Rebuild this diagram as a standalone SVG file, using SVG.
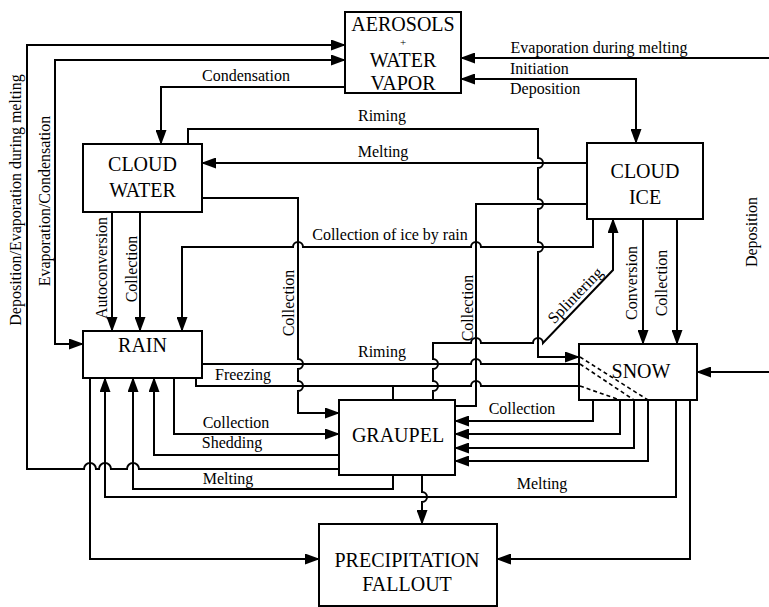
<svg xmlns="http://www.w3.org/2000/svg" width="769" height="607" viewBox="0 0 769 607">
<style>
.box{fill:#fff;stroke:#000;stroke-width:2}
.nt{font-family:"Liberation Serif","Times New Roman",serif;font-size:20px;text-anchor:middle;fill:#000}
.c{fill:none;stroke:#000;stroke-width:2}
.d{fill:none;stroke:#000;stroke-width:1.6;stroke-dasharray:4,3}
.lb{font-family:"Liberation Serif","Times New Roman",serif;font-size:16px;fill:#000}
.m{text-anchor:middle}
</style>
<defs>
<marker id="ah" markerUnits="userSpaceOnUse" markerWidth="15" markerHeight="11" refX="14" refY="5.5" orient="auto-start-reverse" viewBox="0 0 15 11">
<path d="M0,0 L15,5.5 L0,11 Z" fill="#000"/>
</marker>
</defs>
<rect width="769" height="607" fill="#fff"/>

<g id="aerosols">
<rect class="box" x="345" y="12" width="116" height="81"/>
<text class="nt" x="403" y="31">AEROSOLS</text>
<text class="nt" x="403" y="46" style="font-size:11px">+</text>
<text class="nt" x="403" y="67">WATER</text>
<text class="nt" x="403" y="90">VAPOR</text>
</g>
<g id="cloudwater">
<rect class="box" x="83" y="144" width="119" height="68"/>
<text class="nt" x="142.5" y="171">CLOUD</text>
<text class="nt" x="142.5" y="197">WATER</text>
</g>
<g id="cloudice">
<rect class="box" x="587" y="143" width="116" height="76"/>
<text class="nt" x="645" y="178">CLOUD</text>
<text class="nt" x="645" y="204">ICE</text>
</g>
<g id="rain">
<rect class="box" x="83" y="331" width="119" height="47"/>
<text class="nt" x="142.5" y="352">RAIN</text>
</g>
<g id="snow">
<rect class="box" x="579" y="344" width="118" height="56"/>
<text class="nt" x="641" y="378">SNOW</text>
</g>
<g id="graupel">
<rect class="box" x="339" y="400" width="116" height="75"/>
<text class="nt" x="398" y="442">GRAUPEL</text>
</g>
<g id="fallout">
<rect class="box" x="319" y="524" width="178" height="82"/>
<text class="nt" x="407" y="567">PRECIPITATION</text>
<text class="nt" x="407" y="591">FALLOUT</text>
</g>

<g id="connectors">
<path class="c" marker-end="url(#ah)" d="M339,469 L139,469 A6,6 0 0 0 127,469 L111,469 A6,6 0 0 0 99,469 L96,469 A6,6 0 0 0 84,469 L27,469 L27,45 L345,45"/>
<path class="c" marker-start="url(#ah)" marker-end="url(#ah)" d="M345,60 L55,60 L55,344 L83,344"/>
<path class="c" marker-end="url(#ah)" d="M345,87 L161,87 L161,144"/>
<path class="c" marker-end="url(#ah)" d="M769,58 L461,58"/>
<path class="c" marker-start="url(#ah)" marker-end="url(#ah)" d="M461,79 L636,79 L636,143"/>
<path class="c" marker-end="url(#ah)" d="M188,144 L188,129 L538,129 L538,158 A5,5 0 0 1 538,168 L538,199 A5,5 0 0 1 538,209 L538,242 A5,5 0 0 1 538,252 L538,357 L579,357"/>
<path class="c" marker-end="url(#ah)" d="M587,163 L202,163"/>
<path class="c" d="M587,204 L476,204 L476,406 L455,406"/>
<path class="c" marker-end="url(#ah)" d="M593,219 L593,247 L481,247 A5,5 0 0 0 471,247 L303,247 A5,5 0 0 0 293,247 L182,247 L182,331"/>
<path class="c" marker-end="url(#ah)" d="M112,212 L112,331"/>
<path class="c" marker-end="url(#ah)" d="M140,212 L140,331"/>
<path class="c" marker-end="url(#ah)" d="M202,198 L298,198 L298,359 A5,5 0 0 1 298,369 L298,381 A5,5 0 0 1 298,391 L298,413 L339,413"/>
<path class="c" d="M202,364 L471,364 A5,5 0 0 1 481,364 L579,364"/>
<path class="c" d="M196,378 L196,386 L471,386 A5,5 0 0 1 481,386 L579,386"/>
<path class="c" d="M393,386 L393,400"/>
<path class="d" d="M580,357 L648,400 M580,364 L634,400 M580,386 L620,400"/>
<path class="c" marker-end="url(#ah)" d="M648,400 L648,461 L455,461"/>
<path class="c" marker-end="url(#ah)" d="M634,400 L634,448 L455,448"/>
<path class="c" marker-end="url(#ah)" d="M620,400 L620,434 L455,434"/>
<path class="c" marker-end="url(#ah)" d="M593,400 L593,421 L455,421"/>
<path class="c" marker-end="url(#ah)" d="M433,400 L433,391 A5,5 0 0 0 433,381 L433,369 A5,5 0 0 0 433,359 L433,343 L471,343 A5,5 0 0 1 481,343 L533,343 A5,5 0 0 1 543,343 L613,270 L613,219"/>
<path class="c" marker-end="url(#ah)" d="M643,219 L643,344"/>
<path class="c" marker-end="url(#ah)" d="M677,219 L677,344"/>
<path class="c" marker-end="url(#ah)" d="M769,372 L697,372"/>
<path class="c" marker-end="url(#ah)" d="M676,400 L676,497 L105,497 L105,378"/>
<path class="c" marker-end="url(#ah)" d="M690,400 L690,559 L497,559"/>
<path class="c" marker-end="url(#ah)" d="M422,475 L422,492 A5,5 0 0 1 422,502 L422,524"/>
<path class="c" marker-end="url(#ah)" d="M393,475 L393,489 L133,489 L133,378"/>
<path class="c" marker-end="url(#ah)" d="M339,455 L154,455 L154,378"/>
<path class="c" marker-end="url(#ah)" d="M174,378 L174,434 L339,434"/>
<path class="c" marker-end="url(#ah)" d="M90,378 L90,559 L319,559"/>
</g>

<g id="labels">
<text class="lb m" x="246" y="81">Condensation</text>
<text class="lb m" x="599" y="53">Evaporation during melting</text>
<text class="lb" x="510" y="74">Initiation</text>
<text class="lb" x="510" y="94">Deposition</text>
<text class="lb m" x="382" y="121">Riming</text>
<text class="lb m" x="383" y="157">Melting</text>
<text class="lb m" x="390" y="240">Collection of ice by rain</text>
<text class="lb m" x="382" y="357">Riming</text>
<text class="lb m" x="243" y="380">Freezing</text>
<text class="lb m" x="236" y="428">Collection</text>
<text class="lb m" x="232" y="448">Shedding</text>
<text class="lb m" x="228" y="484">Melting</text>
<text class="lb m" x="522" y="414">Collection</text>
<text class="lb m" x="542" y="489">Melting</text>
<text class="lb m" transform="translate(21,200) rotate(-90)">Deposition/Evaporation during melting</text>
<text class="lb m" transform="translate(50,201) rotate(-90)">Evaporation/Condensation</text>
<text class="lb m" transform="translate(107,268) rotate(-90)">Autoconversion</text>
<text class="lb m" transform="translate(137,269) rotate(-90)">Collection</text>
<text class="lb m" transform="translate(294,303) rotate(-90)">Collection</text>
<text class="lb m" transform="translate(473,308) rotate(-90)">Collection</text>
<text class="lb m" transform="translate(637,283) rotate(-90)">Conversion</text>
<text class="lb m" transform="translate(667,283) rotate(-90)">Collection</text>
<text class="lb m" transform="translate(757,232) rotate(-90)">Deposition</text>
<text class="lb m" transform="translate(579,299) rotate(-46)">Splintering</text>
</g>
</svg>
